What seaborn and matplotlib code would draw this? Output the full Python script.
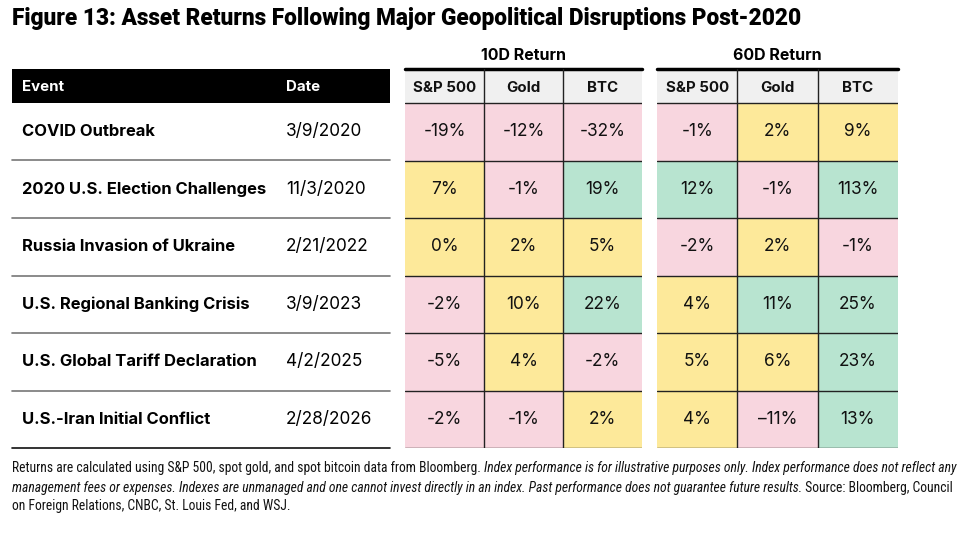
import numpy as np
import pandas as pd
import matplotlib
matplotlib.use("Agg")
import matplotlib.pyplot as plt
import seaborn as sns
from matplotlib.colors import ListedColormap, BoundaryNorm
from matplotlib.patches import Rectangle
from matplotlib.lines import Line2D

# ---------------- data ----------------
title = "Figure 13: Asset Returns Following Major Geopolitical Disruptions Post-2020"
events = ["COVID Outbreak", "2020 U.S. Election Challenges", "Russia Invasion of Ukraine",
          "U.S. Regional Banking Crisis", "U.S. Global Tariff Declaration", "U.S.-Iran Initial Conflict"]
dates = ["3/9/2020", "11/3/2020", "2/21/2022", "3/9/2023", "4/2/2025", "2/28/2026"]
assets = ["S&P 500", "Gold", "BTC"]
ret10_sp = [-19, 7, 0, -2, -5, -2]
ret10_gold = [-12, -1, 2, 10, 4, -1]
ret10_btc = [-32, 19, 5, 22, -2, 2]
ret60_sp = [-1, 12, -2, 4, 5, 4]
ret60_gold = [2, -1, 2, 11, 6, -11]
ret60_btc = [9, 113, -1, 25, 23, 13]
group_titles = ["10D Return", "60D Return"]
footnote = [
    [("Returns are calculated using S&P 500, spot gold, and spot bitcoin data from Bloomberg. ", "normal"),
     ("Index performance is for illustrative purposes only. Index performance does not reflect any", "italic")],
    [("management fees or expenses. Indexes are unmanaged and one cannot invest directly in an index. Past performance does not guarantee future results.", "italic"),
     (" Source: Bloomberg, Council", "normal")],
    [("on Foreign Relations, CNBC, St. Louis Fed, and WSJ.", "normal")],
]

# ---------------- style ----------------
sns.set_theme(style="white")
MAIN = ["Inter", "Roboto", "DejaVu Sans"]
TITLE = ["Roboto", "DejaVu Sans"]
NARROW = ["Roboto Condensed", "Liberation Sans Narrow", "Roboto", "DejaVu Sans"]
plt.rcParams["font.family"] = MAIN

PINK, YELLOW, GREEN = "#F8D6DF", "#FDE99A", "#B8E4D0"
cmap = ListedColormap([PINK, YELLOW, GREEN])
norm = BoundaryNorm([-1000, -0.5, 10.5, 1000], cmap.N)

W, H = 970, 533
fig = plt.figure(figsize=(W / 100, H / 100), dpi=100)
fig.patch.set_facecolor("white")
renderer = fig.canvas.get_renderer()


def fx(px):
    return px / W


def fy(py):
    return 1 - py / H


def width_px(txt, size, **kw):
    t = fig.text(0, 0, txt, fontsize=size, **kw)
    w = t.get_window_extent(renderer=renderer).width
    t.remove()
    return w


def fit(txt, target, **kw):
    return 10 * target / width_px(txt, 10, **kw)


# font sizes fitted to reference widths
title_fs = fit(title, 789, fontweight="black", family=TITLE)
event_fs = fit(events[1], 245, fontweight="bold")
date_fs = event_fs * 1.04
cell_fs = event_fs * 1.04
head_fs = fit("S&P 500", 63, fontweight="bold")
group_fs = fit("10D Return", 85, fontweight="bold")

# title
fig.text(fx(12), fy(18), title, fontsize=title_fs, fontweight="black", family=TITLE,
         va="center", ha="left", color="black")

top, head_bot, bottom = 69, 103, 448
nrows = len(events)
row_h = (bottom - head_bot) / nrows

# ---------------- left table ----------------
fig.patches.append(Rectangle((fx(12), fy(head_bot)), fx(390) - fx(12), fy(top) - fy(head_bot),
                             transform=fig.transFigure, facecolor="black", edgecolor="none"))
fig.text(fx(22), fy((top + head_bot) / 2 + 1), "Event", color="white", fontweight="bold", fontsize=head_fs, va="center")
fig.text(fx(286), fy((top + head_bot) / 2 + 1), "Date", color="white", fontweight="bold", fontsize=head_fs, va="center")
for i, (ev, dt) in enumerate(zip(events, dates)):
    yc = head_bot + row_h * (i + 0.5)
    fig.text(fx(22), fy(yc), ev, fontweight="bold", fontsize=event_fs, va="center", color="black")
    fig.text(fx(286), fy(yc), dt, fontsize=date_fs, va="center", color="black")
    yl = head_bot + row_h * (i + 1)
    col = "#111111" if i == nrows - 1 else "#777777"
    fig.lines.append(Line2D([fx(12), fx(390)], [fy(yl), fy(yl)], transform=fig.transFigure,
                            color=col, lw=1.2))

# ---------------- heat tables ----------------
def fmt(v):
    return ("\u2013" + f"{abs(v)}%") if v == -11 else f"{v}%"


tables = [
    (405, 642, pd.DataFrame({"S&P 500": ret10_sp, "Gold": ret10_gold, "BTC": ret10_btc}, index=events)),
    (657, 898, pd.DataFrame({"S&P 500": ret60_sp, "Gold": ret60_gold, "BTC": ret60_btc}, index=events)),
]
head_h = (head_bot - top) / row_h

for (x0, x1, df), gtitle in zip(tables, group_titles):
    ax = fig.add_axes([fx(x0), fy(bottom), fx(x1) - fx(x0), fy(top) - fy(bottom)])
    labels = df.map(fmt).values
    sns.heatmap(df, ax=ax, cmap=cmap, norm=norm, cbar=False, annot=labels, fmt="",
                annot_kws={"fontsize": cell_fs, "color": "#111111"}, linewidths=0)
    ax.set_ylim(nrows, -head_h)
    ax.set_xlim(0, 3)
    ax.add_patch(Rectangle((0, -head_h), 3, head_h, facecolor="#F0F0F0", edgecolor="none", zorder=2))
    for j, a in enumerate(assets):
        ax.text(j + 0.5, -head_h / 2 + 0.03, a, ha="center", va="center", fontweight="bold", fontsize=head_fs,
                color="#111111", zorder=3)
    for k in range(1, nrows + 1):
        ax.axhline(k, color="#222222", lw=1.0, zorder=4)
    ax.axhline(0, color="#222222", lw=1.0, zorder=4)
    ax.axhline(-head_h, color="black", lw=2.5, zorder=4, clip_on=False)
    for c in (1, 2):
        ax.axvline(c, color="#222222", lw=1.0, zorder=4)
    ax.set_axis_off()
    fig.text(fx((x0 + x1) / 2), fy(55), gtitle, ha="center", va="center", fontweight="bold",
             fontsize=group_fs, color="black")

# ---------------- footnote ----------------
line1_w = sum(width_px(t, 10, style=s, family=NARROW) for t, s in footnote[0])
fn_fs = 10 * 943 / line1_w
for li, (line, yy) in enumerate(zip(footnote, [468, 488, 506])):
    xpx = 12
    for txt, style in line:
        t = fig.text(fx(xpx), fy(yy), txt, fontsize=fn_fs, style=style, va="center", ha="left",
                     family=NARROW, color="#111111")
        bb = t.get_window_extent(renderer=renderer)
        xpx += bb.width

fig.savefig("out.png", dpi=100, facecolor="white")
